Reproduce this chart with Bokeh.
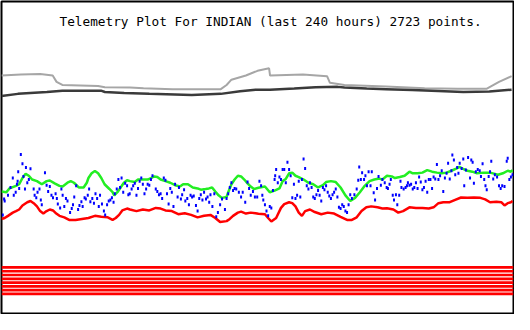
from bokeh.plotting import figure
from bokeh.models import Range1d, Label, Span, ColumnDataSource
from bokeh.embed import file_html
from bokeh.resources import INLINE

# ---- data (time slot 0..530 across 240 hours; values in plot units, larger = lower) ----
title_text = "Telemetry Plot For INDIAN (last 240 hours) 2723 points."

gray_x = [0, 20, 40, 53, 57, 63, 100, 107, 133, 147, 177, 227, 233, 238, 253, 265, 277, 278,
          312, 337, 340, 355, 398, 438, 472, 502, 515, 528]
gray_y = [78.3, 77.3, 76.7, 78.3, 85, 88.3, 89.3, 90.7, 91, 91.7, 92.7, 92.7, 88.3, 82.7, 78.3, 73.3, 70.7, 78.3,
          77.3, 79, 86, 88.3, 90, 91.7, 92.3, 92.3, 85, 79]

dark_x = [0, 17, 47, 63, 103, 107, 127, 153, 197, 227, 247, 263, 278, 303, 325, 348, 355, 378, 398, 425,
          452, 478, 505, 528]
dark_y = [100, 97.7, 95.7, 94.3, 94.3, 95.7, 96.7, 97.7, 99, 97.7, 95, 93.3, 93.3, 92, 90.7, 90.3, 91, 92, 92.7, 93.7,
          94.7, 95.7, 95.3, 93.3]

green_x = [0, 5, 8.3, 15, 18.3, 21.7, 25, 28.3, 31.7, 36.7, 41.7, 46.7, 50, 55, 60, 63.3, 68.3, 71.7, 75, 80,
           85, 88.3, 90, 93.3, 96.7, 100, 103.3, 106.7, 111.7, 115, 116.7, 120, 123.3, 126.7, 130,
           133, 138, 141.3, 146.3, 151.3, 154.7, 158, 161.3, 164.7, 169.7, 174.7, 179.7, 184.7, 188, 193,
           198, 203, 206.3, 211.3, 214.7, 218, 221.3, 224.7, 228, 233, 234.7, 238, 241.3, 244.7, 248,
           251.3, 254.7, 258, 261.3,
           266, 272.7, 277.7, 282.7, 287.7, 291, 294.3, 297.7, 301, 304.3, 307.7, 312.7, 317.7, 322.7,
           327.7, 332.7, 336, 341, 346, 351, 356, 361, 366, 371, 376, 381, 386, 391, 394.3,
           399, 404, 407.3, 412.3, 417.3, 422.3, 425.7, 430.7, 435.7, 440.7, 445.7, 450.7, 455.7, 460.7,
           465.7, 470.7, 474, 477.3, 482.3, 487.3, 492.3, 499, 505.7, 510.7, 514, 519, 524, 527.3, 529]
green_y = [201, 201.7, 197.7, 195, 193.3, 186.7, 182.3, 184.3, 188.3, 190, 193.3, 190, 189.3, 192.3, 195, 195.7, 191.7, 190, 191.7, 196.7,
           196.7, 191.7, 186.7, 181.7, 179.3, 181.7, 186.7, 193.3, 198.3, 201.7, 205, 201.7, 196.7, 191.7, 189,
           190, 191, 188.3, 188.3, 188.3, 186.7, 185, 185.7, 188.3, 190, 191.7, 194.3, 195.7, 193.3, 193.3,
           196.7, 197.7, 199, 198.3, 197.7, 196.7, 201, 205, 207.7, 206.7, 201.7, 193.3, 188.3, 184.3, 185,
           188.3, 192.3, 195.7, 198.3,
           197, 195.7, 201.7, 200, 197.7, 190, 187.7, 181.7, 181, 184.3, 185.7, 188.3, 191.7, 193.3,
           196.7, 194.3, 191, 190, 191, 196.7, 205, 211, 207.7, 201.7, 195, 190, 188.3, 187.3, 188.3,
           184.3, 185, 186.7, 185.7, 184.3, 180, 181.7, 181.7, 181, 178.3, 180, 181, 181.7, 181,
           179, 176.7, 175, 176.7, 179, 180, 181.7, 181, 181, 182.3, 183.3, 181.7, 179, 180, 178.3]

red_x = [0, 3.3, 6.7, 11.7, 15, 18.3, 21.7, 26.7, 30, 33.3, 36.7, 40, 43.3, 46.7, 50, 53.3, 56.7, 60, 65, 70,
         76.7, 83.3, 90, 96.7, 103.3, 110, 115, 118.3, 121.7, 125, 130,
         133, 139.7, 146.3, 153, 159.7, 164.7, 169.7, 176.3, 183, 189.7, 196.3, 203, 209.7, 216.3, 221.3,
         226.3, 233, 236.3, 239.7, 244.7, 248, 253, 258, 263,
         266, 272.7, 276, 279.3, 284.3, 289.3, 292.7, 297.7, 301, 304.3, 307.7, 311, 314.3, 319.3, 324.3,
         331, 337.7, 344.3, 351, 357.7, 362.7, 367.7, 372.7, 377.7, 382.7, 389.3, 394.3,
         399, 405.7, 410.7, 415.7, 422.3, 429, 435.7, 442.3, 447.3, 452.3, 457.3, 464, 469, 475.7, 482.3,
         489, 495.7, 500.7, 505.7, 512.3, 517.3, 520.7, 524, 527.3, 529]
red_y = [230, 229, 226.7, 223.3, 221.7, 220, 215.7, 212.3, 211, 213.3, 216.7, 221.7, 224.3, 221.7, 220, 221, 224.3, 226.7, 228.3, 231,
         231, 230, 229, 226.7, 227.7, 228.3, 231, 229, 225.7, 221, 219,
         220, 221.7, 220, 221, 218.3, 219, 221, 221.7, 225, 224, 225.7, 228.3, 226.7, 225.7, 229,
         233.3, 232.3, 230, 226.7, 223.3, 222.3, 224.3, 223.3, 224,
         224.5, 225, 229, 232.7, 229, 218.3, 214.3, 212.3, 213.3, 216.7, 223.3, 226.7, 221.7, 220, 222.7,
         225, 223.3, 224.3, 227.7, 231, 231, 228.3, 221.7, 217.7, 216.7, 217.7, 219,
         218.7, 220, 223.3, 221.7, 217.7, 218.3, 218.3, 219, 217.7, 213.3, 212.3, 212.3, 210, 207.3, 207.7,
         207.3, 207.7, 209.3, 212.3, 211.7, 212.3, 215.7, 213.3, 212.3, 211]

blue_x = [1.3, 2.7, 3.3, 6.7, 9.3, 11.7, 12.7, 14.7, 16, 16.7, 17.3, 18.3, 20, 21.7, 22.7, 24.3, 25.3, 26.7, 28.3, 30,
          33.3, 34.3, 36, 37.3, 39.3, 40.7, 41.7, 45, 46.7, 48.3, 50, 51.7, 53.3, 56, 57.3, 58.3, 60.7, 62, 63.3, 65,
          66.7, 68.3, 71, 72.7, 74, 75.3, 77.3, 79.3, 80.7, 82.7, 84, 86, 87.3, 89.3, 90.7, 92, 94, 95.7, 97.3, 99,
          100.7, 102, 104, 106, 107.3, 109.3, 111, 112.7, 114.3, 116, 117.3, 119.3, 121, 122.7, 124.3, 126, 128, 130, 131.3, 132.7,
          134.7, 136.3, 138, 139.7, 141.3, 143, 144.7, 146.3, 148, 149.7, 151.3, 153, 154.7, 156.3, 159.7, 161.3, 163, 164.7,
          166.3, 168, 169.7, 171.3, 173, 174.7, 176.3, 178, 179.7, 182.3, 183.7, 185.7, 187, 189, 190.3, 192.3, 194, 195.7,
          197.3, 199, 201.3, 203, 204.7, 206.3, 208, 209.7, 211.7, 213.3, 215, 216.3, 218.3, 220.3, 222.3, 224, 226.3, 228.3,
          231.3, 233, 234.7, 236.3, 238, 239.7, 241.3, 243, 245.7, 248, 249.7, 252.3, 254.7, 256.3, 258, 260.3, 262.3, 264.7,
          267, 268.7, 270, 271, 272.7, 274.3, 276, 277.7, 279.3, 281, 282.7, 283.3, 284.3, 286, 287.7, 289.3, 291, 292.7,
          294.3, 296, 297.7, 299.3, 301, 302.7, 304.3, 306, 307.7, 309.3, 311, 312.7, 314.3, 316, 317.7, 319.3, 321, 322.7,
          324.3, 326, 327.7, 329.3, 331, 332.7, 334.3, 336, 337.7, 339.3, 341, 342.7, 344.3, 346, 347.7, 349.3, 351, 352.7,
          354.3, 356, 357.7, 359.3, 361, 362.7, 365.3, 367.7, 369.3, 370.3, 372, 373.3, 375.3, 376.7, 378.3, 380, 382, 383.3,
          385.3, 386.7, 388.7, 390.3, 392.7, 394.3, 396.7, 398.7,
          400, 401.7, 403, 405, 406.3, 408.3, 409.7, 411.7, 413, 414, 416.3, 418.3, 419.7, 420.7, 422.3, 424, 425.7, 427.3,
          429, 430.7, 432.3, 434, 435.7, 437.3, 439, 440.7, 442.3, 444, 445.7, 447.3, 449, 450.7, 452.3, 454, 455.7, 457.3,
          459, 460.7, 462.3, 464, 465.7, 466.7, 468.3, 469.7, 471.7, 473, 474.3, 476.3, 478, 479, 480.7, 483, 485, 486.3,
          487.7, 489, 491, 493, 495, 496.3, 498, 499.7, 501, 502.3, 504.3, 505.7, 507, 509, 510.7, 513, 515, 516.7,
          518.3, 520.7, 523, 524, 525.7, 527.3, 529]
blue_y = [225.7, 209, 211, 205, 196.7, 186.7, 205, 201.7, 193.3, 190, 180, 197.7, 161.7, 171.7, 185, 198.3, 175.7, 191.7, 188.3, 177,
          198.3, 205, 207.7, 201.7, 198.3, 210, 215, 181, 194.3, 201, 195.7, 205, 207.7, 203.3, 208.3, 214.3, 218.3, 198.3, 205, 216.7,
          208.3, 211, 223.3, 219, 215, 206.7, 195, 220, 215.7, 211.7, 216.7, 207.7, 209, 205, 198.3, 211.7, 208.3, 213.3, 203.3, 208.3,
          216.7, 205, 214.3, 221.7, 225.7, 215, 211, 210, 207.7, 212.3, 203.3, 198.3, 188.3, 196.7, 186.7, 201.7, 192.3, 195, 204.3, 203.3,
          198.3, 195, 192.3, 205, 197.7, 190, 186.7, 193.3, 203.3, 198.3, 193.3, 194.3, 188.3, 184.3, 198.3, 201, 204.3, 203.3,
          208.3, 186.7, 189, 203.3, 214.3, 197.7, 201.7, 216.7, 193.3, 206.7, 196.7, 209, 204.3, 199, 211, 208.3, 215, 205,
          206.7, 205.7, 215.7, 221.7, 208.3, 204.3, 210, 201.7, 209, 206.7, 212.3, 204.3, 216.7, 203.3, 227.7, 223.3, 215, 209,
          220, 208.3, 203.3, 196.7, 191.7, 200, 197.7, 198.3, 201.7, 206.7, 201.7, 212.3, 191, 197.7, 205, 201, 206.7, 206.7,
          190, 195, 205, 210, 215, 221.7, 226.7, 216.7, 218.3, 200, 188.3, 184.3, 177.7, 191.7, 185.7, 188.3, 177.7, 177.7,
          191.7, 170, 177.7, 184.3, 207.7, 193.3, 208.3, 205, 190, 206.7, 188.3, 166.7, 176.7, 195, 198.3, 191.7, 196.7, 206.7,
          208.3, 204.3, 200, 205, 211, 196.7, 199, 195, 201.7, 205.7, 208.3, 204.3, 201.7, 198.3, 206.7, 217.7, 219, 215,
          216.7, 221.7, 223.3, 215, 204.3, 208.3, 204.3, 198.3, 189, 175, 188.3, 181, 188.3, 184.3, 195, 180, 195, 180,
          202.3, 210, 197.7, 185, 194.3, 188.3, 191.7, 196.7,
          197.7, 193.3, 188.3, 205, 210, 204.3, 215, 205, 190, 196.7, 198.3, 196.7, 195, 191.7, 194.3, 193.3, 198.3, 196.7,
          191.7, 197.7, 185.7, 191, 199, 196.7, 190, 201.7, 188.3, 188.3, 197.7, 185.7, 187.7, 172.3, 188.3, 184.3, 179, 201,
          186.7, 181.7, 171, 187.7, 179, 162.3, 167.7, 183.3, 175.7, 181.7, 171, 176.7, 166.7, 195, 178.3, 165, 186.7, 167.7,
          170, 192.3, 180, 177.7, 179, 185, 171.7, 188.3, 195, 199, 185, 180, 169, 187.7, 183.3, 185.7, 195, 197.7,
          195, 195.7, 169, 165.7, 188.3, 185.7, 183.3]

# status flag channels (red bands at the bottom)
stripe_levels = [281.3, 285.3, 289.3, 293.3, 297.3, 301.3, 305.3, 309.3]

# ---- figure ----
p = figure(width=514, height=314, x_range=Range1d(0, 530), y_range=Range1d(330, 0),
           output_backend="svg", toolbar_location=None,
           x_axis_type=None, y_axis_type=None, min_border=1)
p.grid.visible = False
p.outline_line_color = "black"
p.outline_line_width = 2
p.background_fill_color = "white"
p.border_fill_color = "white"

p.line(gray_x, gray_y, line_color="#a6a6a6", line_width=2)
p.line(dark_x, dark_y, line_color="#3a3a3a", line_width=2.5)
p.line(green_x, green_y, line_color="#22ee22", line_width=2.5)
p.line(red_x, red_y, line_color="#ff0000", line_width=2.5)

blue_src = ColumnDataSource(dict(x=blue_x, y=blue_y))
p.rect("x", "y", width=2, height=3, width_units="screen", height_units="screen",
       fill_color="#0000ff", line_color=None, source=blue_src)

for lvl in stripe_levels:
    p.add_layout(Span(location=lvl, dimension="width", line_color="#ff0000", line_width=2.7))

p.add_layout(Label(x=60, y=21, text=title_text, text_font="DejaVu Sans Mono",
                   text_font_size="12.75px", text_color="black", text_baseline="alphabetic"))

open("out.html", "w").write(file_html(p, INLINE))
